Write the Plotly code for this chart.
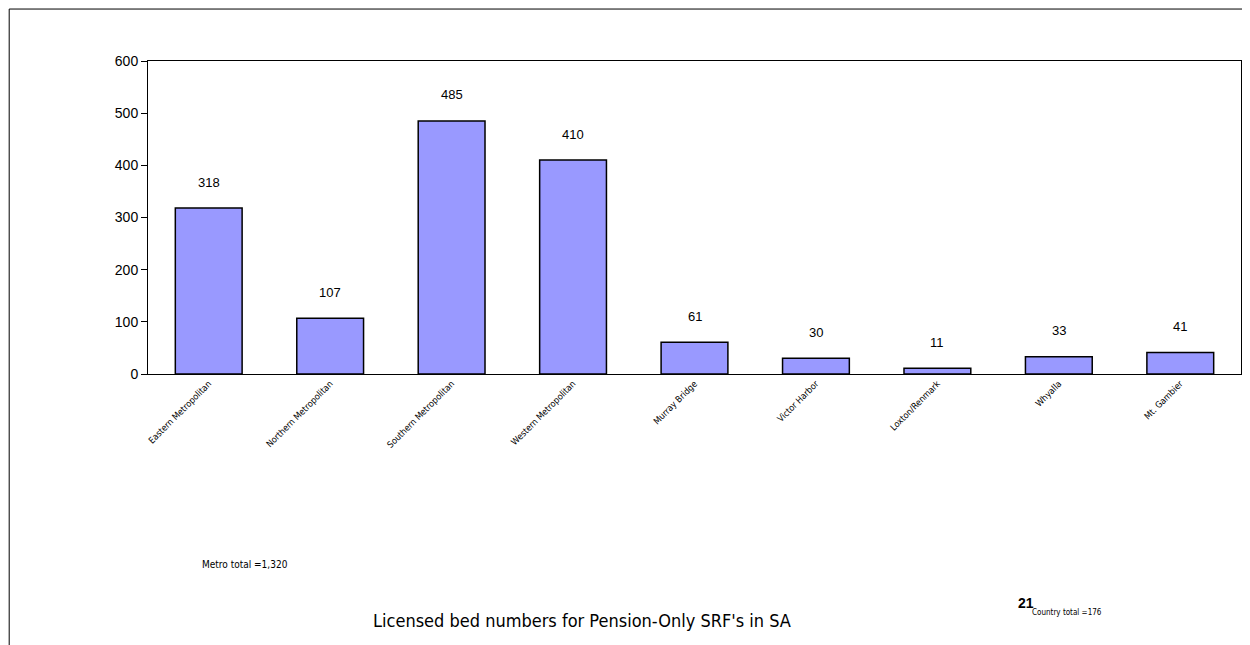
import plotly.graph_objects as go

categories = ["Eastern Metropolitan", "Northern Metropolitan", "Southern Metropolitan",
              "Western Metropolitan", "Murray Bridge", "Victor Harbor",
              "Loxton/Renmark", "Whyalla", "Mt. Gambier"]
values = [318, 107, 485, 410, 61, 30, 11, 33, 41]
y_ticks = [0, 100, 200, 300, 400, 500, 600]

fig = go.Figure()
fig.add_trace(go.Bar(
    x=categories, y=values,
    marker=dict(color="#9999FF", line=dict(color="black", width=1.5)),
    cliponaxis=False,
))

annotations = [
    dict(x=c, y=v, text=str(v), xref="x", yref="y", showarrow=False, yshift=26,
         font=dict(size=13, family="Liberation Sans, Arial"))
    for c, v in zip(categories, values)
]
annotations += [
    dict(text="Metro total =1,320", xref="paper", yref="paper", x=0.0476, y=-0.61,
         showarrow=False, xanchor="left", yanchor="middle",
         font=dict(size=10, family="DejaVu Sans Condensed, Liberation Sans")),
    dict(text="Licensed bed numbers for Pension-Only SRF's in SA", xref="paper", yref="paper",
         x=0.397, y=-0.786, showarrow=False, xanchor="center", yanchor="middle",
         font=dict(size=18, family="DejaVu Sans Condensed, Liberation Sans")),
    dict(text="Country total =176", xref="paper", yref="paper", x=0.807, y=-0.762,
         showarrow=False, xanchor="left", yanchor="middle",
         font=dict(size=8, family="DejaVu Sans Condensed, Liberation Sans")),
    dict(text="<b>21</b>", xref="paper", yref="paper", x=0.794, y=-0.732,
         showarrow=False, xanchor="left", yanchor="middle",
         font=dict(size=14, family="Liberation Sans")),
]

fig.update_layout(
    width=1242, height=637,
    margin=dict(l=140, r=9, t=53, b=271),
    paper_bgcolor="white", plot_bgcolor="white",
    bargap=0.45, showlegend=False,
    font=dict(family="Liberation Sans, Arial", color="black"),
    xaxis=dict(tickangle=-45, tickfont=dict(size=9, family="DejaVu Sans Condensed, Liberation Sans"),
               showline=True, linecolor="black", mirror=True, ticks="", showgrid=False),
    yaxis=dict(range=[0, 600], tickvals=y_ticks, tickfont=dict(size=14),
               showline=True, linecolor="black", mirror=True, ticks="outside",
               ticklen=6, tickcolor="black", showgrid=False, zeroline=False),
    shapes=[dict(type="rect", xref="paper", yref="paper", x0=-0.127, x1=1.0064,
                 y0=-0.9, y1=1.166, line=dict(color="black", width=1))],
    annotations=annotations,
)
fig.write_html("out.html")
